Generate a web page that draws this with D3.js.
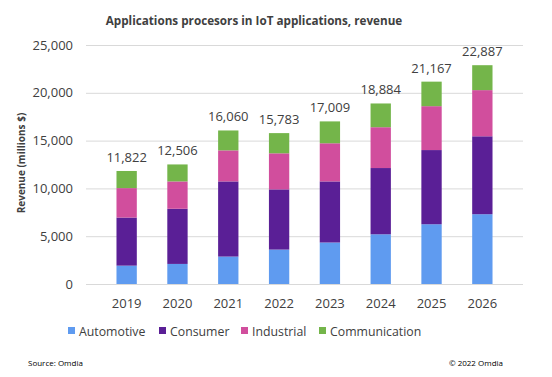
<!DOCTYPE html>
<html lang="en">
<head>
    <meta charset="UTF-8">
    <title>Applications processors in IoT applications</title>
    <script src="https://d3js.org/d3.v7.min.js"></script>
    <style>
        body { margin: 0; background: #fff; }
        text { font-family: "Open Sans", "Noto Sans", sans-serif; fill: #404040; }
    </style>
</head>
<body>
    <svg id="chart"></svg>

    <script>
        // data (millions $)
        const years = ["2019", "2020", "2021", "2022", "2023", "2024", "2025", "2026"];
        const automotive    = [1920, 2100, 2870, 3600, 4340, 5200, 6250, 7300];
        const consumer      = [5030, 5770, 7860, 6300, 6390, 6930, 7760, 8150];
        const industrial    = [3080, 2860, 3250, 3770, 3990, 4270, 4590, 4830];
        const communication = [1792, 1776, 2080, 2113, 2289, 2484, 2567, 2607];
        const totals        = [11822, 12506, 16060, 15783, 17009, 18884, 21167, 22887];
        const seriesNames   = ["Automotive", "Consumer", "Industrial", "Communication"];
        const yTicks        = [0, 5000, 10000, 15000, 20000, 25000];

        const colors = ["#5f9bf0", "#5a1f96", "#d14e9d", "#74b54a"];
        const width = 552, height = 377;
        const margin = { top: 45, right: 29, bottom: 93, left: 86 };
        const chartWidth = width - margin.left - margin.right;
        const chartHeight = height - margin.top - margin.bottom;

        const rows = years.map((y, i) => ({
            year: y,
            Automotive: automotive[i],
            Consumer: consumer[i],
            Industrial: industrial[i],
            Communication: communication[i],
            total: totals[i]
        }));

        const svg = d3.select("#chart").attr("width", width).attr("height", height);

        const x = d3.scaleBand().domain(years).range([0, chartWidth]).padding(0.6);
        const y = d3.scaleLinear().domain([0, 25000]).range([chartHeight, 0]);
        const color = d3.scaleOrdinal().domain(seriesNames).range(colors);

        // title
        svg.append("text")
            .attr("x", 254).attr("y", 25)
            .attr("text-anchor", "middle")
            .attr("font-size", "11.7px").attr("font-weight", "bold")
            .text("Applications procesors in IoT applications, revenue");

        const g = svg.append("g").attr("transform", `translate(${margin.left},${margin.top})`);

        // gridlines + y labels
        const yAxis = g.append("g")
            .call(d3.axisLeft(y).tickValues(yTicks).tickSize(-chartWidth).tickFormat(d3.format(",")));
        yAxis.select(".domain").remove();
        yAxis.selectAll(".tick line").attr("stroke", "#d9d9d9").attr("stroke-width", 1);
        yAxis.selectAll(".tick text").attr("x", -13).attr("font-size", "13px")
            .attr("font-family", "'Open Sans', sans-serif").attr("fill", "#404040");

        // x labels
        const xAxis = g.append("g")
            .attr("transform", `translate(0,${chartHeight})`)
            .call(d3.axisBottom(x).tickSize(0));
        xAxis.select(".domain").remove();
        xAxis.selectAll(".tick text").attr("dy", "0").attr("y", 24).attr("font-size", "13px")
            .attr("font-family", "'Open Sans', sans-serif").attr("fill", "#404040");

        // stacked bars
        const stacked = d3.stack().keys(seriesNames)(rows);
        g.selectAll(".layer")
            .data(stacked)
            .enter().append("g")
            .attr("fill", d => color(d.key))
            .selectAll("rect")
            .data(d => d)
            .enter().append("rect")
            .attr("x", d => x(d.data.year))
            .attr("y", d => y(d[1]))
            .attr("width", x.bandwidth())
            .attr("height", d => y(d[0]) - y(d[1]));

        // totals
        g.selectAll(".total")
            .data(rows)
            .enter().append("text")
            .attr("x", d => x(d.year) + x.bandwidth() / 2)
            .attr("y", d => y(d.total) - 9)
            .attr("text-anchor", "middle")
            .attr("font-size", "13px")
            .text(d => d3.format(",")(d.total));

        // y axis title
        svg.append("text")
            .attr("transform", "translate(25,163) rotate(-90)")
            .attr("text-anchor", "middle")
            .attr("font-size", "10px").attr("font-weight", "bold")
            .text("Revenue  (millions $)");

        // legend
        const legendX = [68, 159, 241, 319];
        const legend = svg.append("g").attr("transform", "translate(0,331)");
        seriesNames.forEach((name, i) => {
            legend.append("rect")
                .attr("x", legendX[i]).attr("y", -4)
                .attr("width", 7).attr("height", 7)
                .attr("fill", color(name));
            legend.append("text")
                .attr("x", legendX[i] + 11).attr("y", 4.5)
                .attr("font-size", "12.3px")
                .text(name);
        });

        // footer
        svg.append("text")
            .attr("x", 28).attr("y", 366)
            .attr("font-size", "8px")
            .style("fill", "#000")
            .text("Source: Omdia");
        svg.append("text")
            .attr("x", 503).attr("y", 366)
            .attr("text-anchor", "end")
            .attr("font-size", "8px")
            .style("fill", "#000")
            .text("© 2022 Omdia");
    </script>
</body>
</html>
